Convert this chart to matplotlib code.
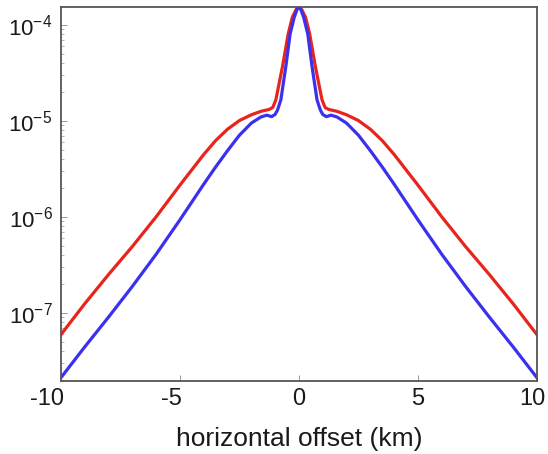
import matplotlib
matplotlib.use("Agg")
import matplotlib.pyplot as plt
import matplotlib.transforms as mtransforms
from matplotlib.ticker import FixedLocator, LogLocator, NullFormatter

plt.rcParams['font.family'] = ['Liberation Sans', 'DejaVu Sans']
plt.rcParams['mathtext.fontset'] = 'custom'
plt.rcParams['mathtext.rm'] = 'Liberation Sans'
plt.rcParams['mathtext.it'] = 'Liberation Sans:italic'
plt.rcParams['mathtext.bf'] = 'Liberation Sans:bold'

# horizontal offset (km)
red_x = [-10, -9, -8, -7, -6, -5, -4, -3.5, -3, -2.5, -2, -1.6, -1.25, -1.1, -0.97, -0.69, -0.45, -0.28, -0.12, 0,
         0.12, 0.28, 0.45, 0.69, 0.97, 1.1, 1.25, 1.6, 2, 2.5, 3, 3.5, 4, 5, 6, 7, 8, 9, 10]
red_y = [5.9e-8, 1.24e-7, 2.5e-7, 4.9e-7, 1.0e-6, 2.14e-6, 4.47e-6, 6.24e-6, 8.2e-6, 1.01e-5, 1.16e-5, 1.26e-5, 1.32e-5,
         1.38e-5, 1.66e-5, 3.7e-5, 8.1e-5, 1.2e-4, 1.45e-4, 1.55e-4,
         1.45e-4, 1.2e-4, 8.1e-5, 3.7e-5, 1.66e-5, 1.38e-5, 1.32e-5, 1.26e-5, 1.16e-5, 1.01e-5, 8.2e-6, 6.24e-6,
         4.47e-6, 2.14e-6, 1.0e-6, 4.9e-7, 2.5e-7, 1.24e-7, 5.9e-8]

blue_x = [-10, -9, -8, -7, -6, -5, -4, -3.5, -3, -2.5, -2, -1.6, -1.35, -1.15, -1.0, -0.9, -0.76, -0.55, -0.37, -0.2,
          -0.08, 0,
          0.08, 0.2, 0.37, 0.55, 0.76, 0.9, 1.0, 1.15, 1.35, 1.6, 2, 2.5, 3, 3.5, 4, 5, 6, 7, 8, 9, 10]
blue_y = [2.1e-8, 4.4e-8, 9.0e-8, 1.88e-7, 4.07e-7, 9.3e-7, 2.19e-6, 3.31e-6, 4.9e-6, 7.1e-6, 9.5e-6, 1.1e-5, 1.15e-5,
          1.11e-5, 1.17e-5, 1.3e-5, 1.66e-5, 3.7e-5, 8.1e-5, 1.2e-4, 1.45e-4, 1.55e-4,
          1.45e-4, 1.2e-4, 8.1e-5, 3.7e-5, 1.66e-5, 1.3e-5, 1.17e-5, 1.11e-5, 1.15e-5, 1.1e-5, 9.5e-6, 7.1e-6,
          4.9e-6, 3.31e-6, 2.19e-6, 9.3e-7, 4.07e-7, 1.88e-7, 9.0e-8, 4.4e-8, 2.1e-8]

x_ticks = [-10, -5, 0, 5, 10]
y_ticks = [1e-7, 1e-6, 1e-5, 1e-4]
y_labels = ['10$^{-7}$', '10$^{-6}$', '10$^{-5}$', '10$^{-4}$']

fig = plt.figure(figsize=(5.48, 4.54), dpi=100)
ax = fig.add_axes([0.111, 0.161, 0.869, 0.824])

ax.plot(red_x, red_y, color='#e8241c', lw=2.3, solid_joinstyle='round')
ax.plot(blue_x, blue_y, color='#3a30ee', lw=2.3, solid_joinstyle='round')

ax.set_yscale('log')
ax.set_xlim(-10, 10)
ax.set_ylim(1.95e-8, 1.55e-4)

ax.xaxis.set_major_locator(FixedLocator(x_ticks))
ax.set_xticklabels([str(t) for t in x_ticks])
ax.yaxis.set_major_locator(FixedLocator(y_ticks))
ax.set_yticklabels(y_labels)
ax.yaxis.set_minor_locator(LogLocator(base=10, subs=range(2, 10)))
ax.yaxis.set_minor_formatter(NullFormatter())

ax.tick_params(axis='x', which='major', direction='in', length=4, width=0.6,
               color='#888888', labelsize=17, labelcolor='#1a1a1a', pad=5)
ax.tick_params(axis='y', which='major', direction='in', length=4, width=0.6,
               color='#888888', labelsize=16, labelcolor='#1a1a1a', pad=6)
ax.tick_params(axis='y', which='minor', direction='in', length=2, width=0.5, color='#999999')
ax.tick_params(top=False, right=False)

# small horizontal nudges of x tick labels (in pixels) to match reference placement
label_shift_px = [-14, -8, 0, 0, -5]
for lab, dx in zip(ax.get_xticklabels(), label_shift_px):
    lab.set_transform(lab.get_transform() + mtransforms.ScaledTranslation(dx / 100, 0, fig.dpi_scale_trans))

for s in ax.spines.values():
    s.set_color('#555555')
    s.set_linewidth(1.3)

ax.set_xlabel('horizontal offset (km)', fontsize=19, color='#1a1a1a', labelpad=12)

fig.savefig('out.png', dpi=100)
